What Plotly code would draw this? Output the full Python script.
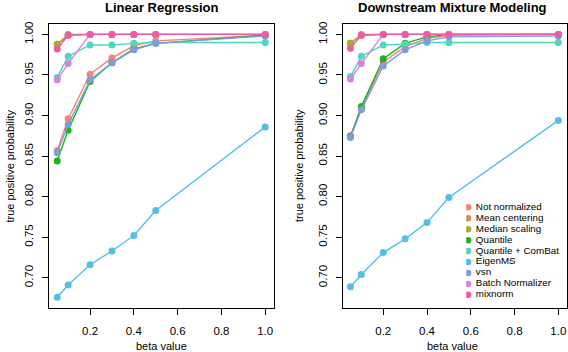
import plotly.graph_objects as go

beta = [0.05, 0.1, 0.2, 0.3, 0.4, 0.5, 1.0]
methods = ["Not normalized", "Mean centering", "Median scaling", "Quantile",
           "Quantile + ComBat", "EigenMS", "vsn", "Batch Normalizer", "mixnorm"]
colors = ["#F8827A", "#D4924F", "#A6B01E", "#1DB51D", "#4FD6BE",
          "#54BFE6", "#7E9CDE", "#D584DC", "#EE5CA6"]

lin_reg = {
    "Not normalized":    [0.857, 0.896, 0.951, 0.971, 0.986, 0.992, 0.999],
    "Mean centering":    [0.988, 1.000, 1.000, 1.000, 1.000, 1.000, 1.000],
    "Median scaling":    [0.988, 0.999, 1.000, 1.000, 1.000, 1.000, 1.000],
    "Quantile":          [0.844, 0.882, 0.942, 0.965, 0.982, 0.989, 0.999],
    "Quantile + ComBat": [0.947, 0.973, 0.987, 0.987, 0.989, 0.990, 0.990],
    "EigenMS":           [0.676, 0.691, 0.716, 0.733, 0.752, 0.783, 0.886],
    "vsn":               [0.854, 0.889, 0.944, 0.965, 0.981, 0.989, 0.998],
    "Batch Normalizer":  [0.944, 0.964, 1.000, 1.000, 1.000, 1.000, 1.000],
    "mixnorm":           [0.982, 0.999, 1.000, 1.000, 1.000, 1.000, 1.000],
}
mixture = {
    "Not normalized":    [0.875, 0.909, 0.966, 0.985, 0.995, 0.999, 1.000],
    "Mean centering":    [0.989, 1.000, 1.000, 1.000, 1.000, 1.000, 1.000],
    "Median scaling":    [0.989, 0.999, 1.000, 1.000, 1.000, 1.000, 1.000],
    "Quantile":          [0.874, 0.911, 0.970, 0.989, 0.997, 1.000, 1.000],
    "Quantile + ComBat": [0.948, 0.973, 0.987, 0.988, 0.990, 0.990, 0.990],
    "EigenMS":           [0.689, 0.704, 0.731, 0.748, 0.768, 0.799, 0.894],
    "vsn":               [0.873, 0.907, 0.961, 0.981, 0.992, 0.997, 0.998],
    "Batch Normalizer":  [0.945, 0.964, 1.000, 1.000, 1.000, 1.000, 1.000],
    "mixnorm":           [0.983, 0.999, 1.000, 1.000, 1.000, 1.000, 1.000],
}
titles = ["Linear Regression", "Downstream Mixture Modeling"]
x_ticks = [0.2, 0.4, 0.6, 0.8, 1.0]
y_ticks = [0.70, 0.75, 0.80, 0.85, 0.90, 0.95, 1.00]

W, H = 568, 352
FONT = "Liberation Sans, Arial, Helvetica, sans-serif"

fig = go.Figure()
for ax, data in (("", lin_reg), ("2", mixture)):
    for m, c in zip(methods, colors):
        fig.add_trace(go.Scatter(
            x=beta, y=data[m], mode="lines+markers", name=m,
            line=dict(color=c, width=1.4),
            marker=dict(color=c, size=7),
            xaxis="x" + ax, yaxis="y" + ax, showlegend=False,
        ))

# legend drawn on a hidden axis, one row per method
fig.add_trace(go.Scatter(
    x=[0] * len(methods), y=list(range(len(methods))),
    mode="markers+text", text=[" " + m for m in methods], textposition="middle right",
    marker=dict(color=colors, size=6.5),
    textfont=dict(size=9.8, color="black", family=FONT),
    xaxis="x3", yaxis="y3", showlegend=False, hoverinfo="skip",
))

ydom = [1 - 307.5 / H, 1 - 22 / H]
tickfont = dict(size=11.5, color="black", family=FONT)
common_x = dict(tickvals=x_ticks, ticktext=["%.1f" % v for v in x_ticks],
                showline=True, mirror=True, linecolor="black", linewidth=1,
                ticks="outside", ticklen=6, tickcolor="black", showgrid=False,
                zeroline=False, tickfont=tickfont, ticklabelstandoff=6)
common_y = dict(range=[0.663, 1.013], tickvals=y_ticks,
                ticktext=["%.2f" % v for v in y_ticks], tickangle=-90,
                showline=True, mirror=True, linecolor="black", linewidth=1,
                ticks="outside", ticklen=6, tickcolor="black", showgrid=False,
                zeroline=False, tickfont=tickfont, domain=ydom, ticklabelstandoff=4)

fig.update_layout(
    width=W, height=H, margin=dict(l=0, r=0, t=0, b=0),
    plot_bgcolor="white", paper_bgcolor="white",
    font=dict(family=FONT, color="black"),
    xaxis=dict(domain=[49 / W, 274 / W], anchor="y", range=[0.012, 1.038], **common_x),
    yaxis=dict(anchor="x", **common_y),
    xaxis2=dict(domain=[343.5 / W, 1.0], anchor="y2", range=[0.0155, 1.0397], **common_x),
    yaxis2=dict(anchor="x2", **common_y),
    xaxis3=dict(domain=[467 / W, 565 / W], range=[-0.02, 1], visible=False),
    yaxis3=dict(domain=[1 - 300 / H, 1 - 201 / H], range=[8.5, -0.5], visible=False,
                anchor="x3"),
    showlegend=False,
)

ann = []
for i, t in enumerate(titles):
    cx = (49 + 274) / 2 / W if i == 0 else (343.5 + 563) / 2 / W
    ann.append(dict(text="<b>%s</b>" % t, x=cx, y=1 - 6 / H, xref="paper", yref="paper",
                    showarrow=False, font=dict(size=13, family=FONT), xanchor="center",
                    yanchor="middle"))
    ann.append(dict(text="beta value", x=cx, y=1 - 345.5 / H,
                    xref="paper", yref="paper", showarrow=False,
                    font=dict(size=11, family=FONT), xanchor="center", yanchor="middle"))
    yx = 10 / W if i == 0 else 299 / W
    ann.append(dict(text="true positive probability", x=yx, y=1 - 164.5 / H,
                    xref="paper", yref="paper", showarrow=False, textangle=-90,
                    font=dict(size=11, family=FONT), xanchor="center", yanchor="middle"))
fig.update_layout(annotations=ann)

fig.write_html("out.html", config={"displayModeBar": False},
               post_script="document.body.style.margin='0';document.body.style.padding='0';")
